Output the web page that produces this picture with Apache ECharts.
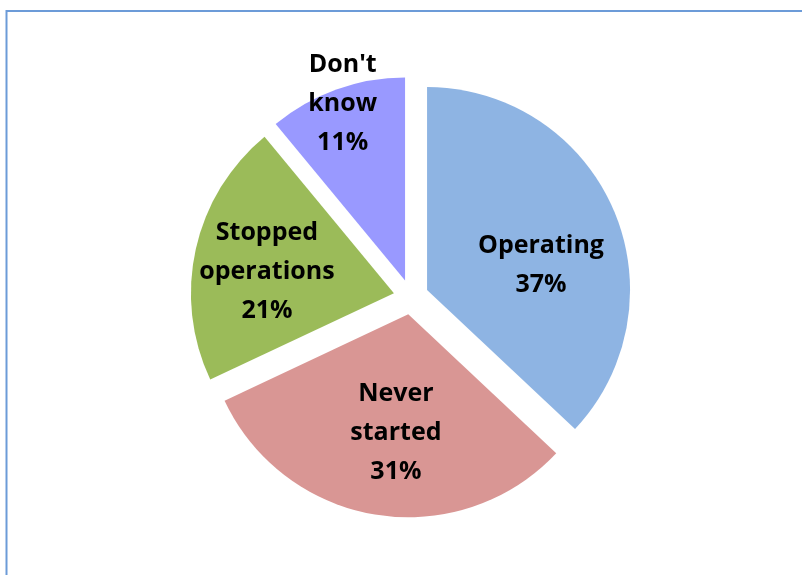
<!DOCTYPE html>
<html>
<head>
<meta charset="utf-8">
<script src="https://cdn.jsdelivr.net/npm/echarts@6/dist/echarts.min.js"></script>
<style>html,body{margin:0;padding:0;background:#fff;}#c{width:802px;height:575px;}</style>
</head>
<body>
<div id="c"></div>
<script>
var categories = ["Operating", "Never started", "Stopped operations", "Don't know"];
var labelText = ["Operating", "Never\nstarted", "Stopped\noperations", "Don't\nknow"];
var values = [37, 31, 21, 11];
var colors = ["#8EB4E3", "#D99694", "#9BBB59", "#9999FF"];
var labelShift = [[18, 17], [4, 15], [-25, 1], [-27, -78]];

var chart = echarts.init(document.getElementById('c'), null, {renderer: 'canvas'});
var data = categories.map(function (c, i) {
  return {
    name: c,
    value: values[i],
    selected: true,
    itemStyle: {color: colors[i]},
    select: {itemStyle: {color: colors[i]}}
  };
});
chart.setOption({
  animation: false,
  backgroundColor: '#ffffff',
  graphic: [{
    type: 'polyline',
    shape: {points: [[6.5, 575], [6.5, 11], [802, 11]]},
    style: {stroke: '#6C9BD8', lineWidth: 2, fill: null},
    silent: true
  }],
  series: [{
    type: 'pie',
    center: [411, 297],
    radius: 203,
    startAngle: 90,
    clockwise: true,
    selectedMode: 'multiple',
    selectedOffset: 17.5,
    avoidLabelOverlap: false,
    data: data,
    label: {
      show: true,
      position: 'inside',
      formatter: function (p) { return labelText[p.dataIndex] + '\n' + p.value + '%'; },
      color: '#000',
      fontFamily: 'Open Sans',
      fontWeight: 'bold',
      fontSize: 25,
      lineHeight: 39,
      align: 'center'
    },
    labelLayout: function (p) {
      return {dx: labelShift[p.dataIndex][0], dy: labelShift[p.dataIndex][1]};
    },
    labelLine: {show: false},
    emphasis: {disabled: true}
  }]
});
</script>
</body>
</html>
